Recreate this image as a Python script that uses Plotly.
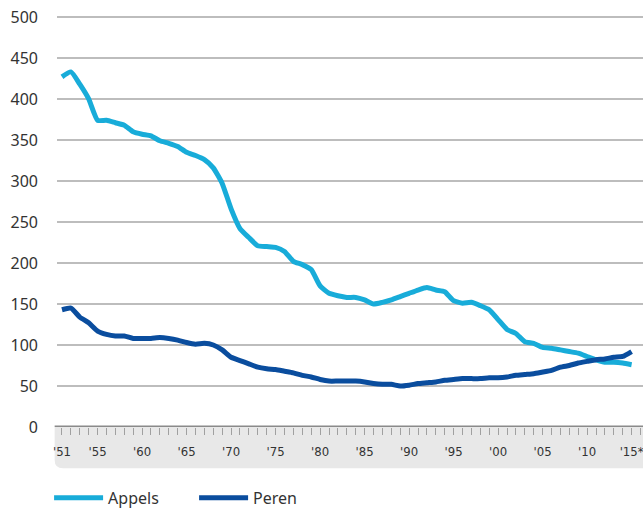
import plotly.graph_objects as go

years = list(range(1951, 2016))

appels = [427, 433, 418, 400, 374, 374, 371, 368, 360, 357,
          355, 349, 346, 342, 335, 331, 326, 316, 297, 266,
          242, 231, 221, 220, 219, 214, 202, 198, 192, 172,
          163, 160, 158, 158, 155, 150, 152, 155, 159, 163,
          167, 170, 167, 165, 154, 151, 152, 148, 143, 131,
          119, 114, 104, 102, 97, 96, 94, 92, 90, 86,
          82, 79, 79, 78, 76]

peren = [143, 145, 134, 127, 117, 113, 111, 111, 108, 108,
         108, 109, 108, 106, 103, 101, 102, 100, 94, 85,
         81, 77, 73, 71, 70, 68, 66, 63, 61, 58,
         56, 56, 56, 56, 55, 53, 52, 52, 50, 51,
         53, 54, 55, 57, 58, 59, 59, 59, 60, 60,
         61, 63, 64, 65, 67, 69, 73, 75, 78, 80,
         82, 83, 85, 86, 92]

tick_years = [1951, 1955, 1960, 1965, 1970, 1975, 1980, 1985, 1990, 1995,
              2000, 2005, 2010, 2015]
tick_text = ["'51", "'55", "'60", "'65", "'70", "'75", "'80", "'85", "'90", "'95",
             "'00", "'05", "'10", "'15*"]
y_ticks = [0, 50, 100, 150, 200, 250, 300, 350, 400, 450, 500]

fig = go.Figure()
fig.add_trace(go.Scatter(x=years, y=appels, name="Appels", mode="lines",
                         line=dict(color="#18acd9", width=5, shape="spline", smoothing=0.5)))
fig.add_trace(go.Scatter(x=years, y=peren, name="Peren", mode="lines",
                         line=dict(color="#0a4d9e", width=5, shape="spline", smoothing=0.5)))

# grey band beneath the x axis with rounded lower-left corner
x0, x1, y0, y1 = -0.004, 1.0, -0.1, 0.0
rx, ry = 0.014, 0.02
fig.add_shape(type="path", xref="paper", yref="paper", layer="below",
              path=f"M {x0},{y1} L {x1},{y1} L {x1},{y0} L {x0+rx},{y0} Q {x0},{y0} {x0},{y0+ry} Z",
              fillcolor="#e8e8e8", line=dict(width=0))

fig.update_layout(
    width=643, height=515,
    margin=dict(l=57, r=0, t=15, b=79),
    paper_bgcolor="white", plot_bgcolor="white",
    font=dict(family="DejaVu Sans Condensed, Noto Sans", color="#333333"),
    showlegend=True,
    legend=dict(orientation="h", x=-0.0135, xanchor="left", y=-0.172, yanchor="middle",
                font=dict(size=16, color="#333333", family="Noto Sans"),
                itemwidth=49, entrywidth=81, entrywidthmode="pixels",
                bgcolor="rgba(0,0,0,0)"),
    xaxis=dict(range=[1950.44, 2016.28], showgrid=False, zeroline=False,
               tickmode="array", tickvals=tick_years, ticktext=tick_text,
               ticks="outside", ticklen=7, tickcolor="#a0a0a0", tickwidth=1,
               minor=dict(dtick=1, ticks="outside", ticklen=7, tickcolor="#a0a0a0", tickwidth=1),
               showline=False, tickfont=dict(size=13, color="#333333"),
               ticklabelstandoff=5, ticklabeloverflow="allow"),
    yaxis=dict(range=[0, 502.4], tickmode="array", tickvals=y_ticks,
               showgrid=True, gridcolor="#bdbdbd", gridwidth=1.5,
               zeroline=False, showline=False,
               tickfont=dict(size=16, color="#333333", family="Noto Sans"),
               ticklabelstandoff=18, ticklabeloverflow="allow"),
)

# axis baseline
fig.add_shape(type="line", xref="paper", yref="y", x0=-0.004, x1=1, y0=0, y1=0,
              line=dict(color="#8a8a8a", width=3))

fig.write_html("out.html", config={"displayModeBar": False},
               post_script="document.body.style.margin='0px';document.body.style.overflow='hidden';")
